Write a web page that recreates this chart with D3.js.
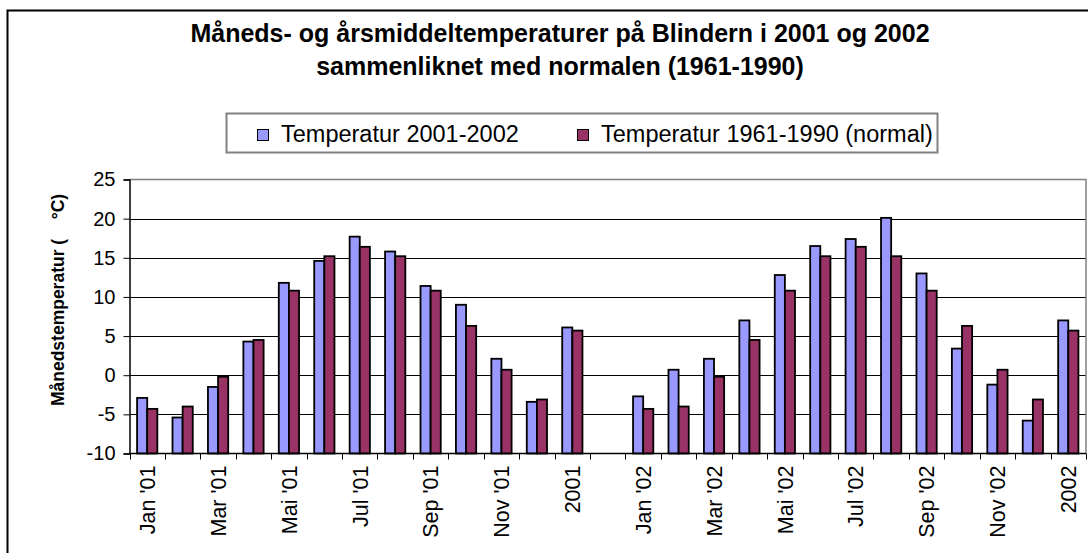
<!DOCTYPE html>
<html lang="no">
	<head>
		<meta charset="utf-8">
		<title>Blindern temperatur</title>
		<script type="text/javascript" src="https://cdn.jsdelivr.net/npm/d3@7"></script>
		<style type="text/css">
			body { margin: 0; background: #fff; }
			svg { display: block; font-family: "Liberation Sans", Arial, sans-serif; }
		</style>
	</head>

	<body>
        <script type="text/javascript">

            // chart size
			var w = 1088;
			var h = 553;

            // categories (blank one between the two years)
            var categories = ["Jan '01", "Feb '01", "Mar '01", "Apr '01", "Mai '01", "Jun '01",
                "Jul '01", "Aug '01", "Sep '01", "Okt '01", "Nov '01", "Des '01", "2001", "",
                "Jan '02", "Feb '02", "Mar '02", "Apr '02", "Mai '02", "Jun '02",
                "Jul '02", "Aug '02", "Sep '02", "Okt '02", "Nov '02", "Des '02", "2002"];

            // Temperatur 2001-2002
            var temp = [-2.9, -5.4, -1.5, 4.3, 11.8, 14.6, 17.7, 15.8, 11.4, 9.0, 2.1, -3.4, 6.1, null,
                -2.7, 0.7, 2.1, 7.0, 12.8, 16.5, 17.4, 20.1, 13.0, 3.4, -1.2, -5.8, 7.0];

            // Temperatur 1961-1990 (normal)
            var normal = [-4.3, -4.0, -0.2, 4.5, 10.8, 15.2, 16.4, 15.2, 10.8, 6.3, 0.7, -3.1, 5.7, null,
                -4.3, -4.0, -0.2, 4.5, 10.8, 15.2, 16.4, 15.2, 10.8, 6.3, 0.7, -3.1, 5.7];

            var seriesNames = ["Temperatur 2001-2002", "Temperatur 1961-1990 (normal)"];
            var yTicks = [-10, -5, 0, 5, 10, 15, 20, 25];
            var xLabels = ["Jan '01", "Mar '01", "Mai '01", "Jul '01", "Sep '01", "Nov '01", "2001",
                "Jan '02", "Mar '02", "Mai '02", "Jul '02", "Sep '02", "Nov '02", "2002"];

            var colors = ["#9999ff", "#993366"];

            // plot area
            var pLeft = 129.5, pRight = 1086, pTop = 179.5, pBottom = 453.5;

            var svg = d3.select("body")
                .append("svg")
                .attr("width", w)
                .attr("height", h);

            // outer chart frame (runs off the picture at right and bottom)
            svg.append("path")
                .attr("d", "M7.5," + (h + 5) + "V10.5H" + (w + 5))
                .attr("fill", "none")
                .attr("stroke", "#000")
                .attr("stroke-width", 2);

            var xScale = d3.scaleBand()
                .domain(categories)
                .range([pLeft, pRight]);

            // two bars per category, gap width 150%
            var x1 = d3.scaleBand()
                .domain([0, 1])
                .range([0, xScale.bandwidth()])
                .paddingOuter(0.75);

            var yScale = d3.scaleLinear()
                .domain([-10, 25])
                .range([pBottom, pTop]);

            // gridlines
            svg.append("g")
                .selectAll("line")
                .data(yTicks.filter(function(d) { return d > -10 && d < 25; }))
                .enter()
                .append("line")
                .attr("x1", pLeft)
                .attr("x2", pRight)
                .attr("y1", function(d) { return Math.round(yScale(d)) + 0.5; })
                .attr("y2", function(d) { return Math.round(yScale(d)) + 0.5; })
                .attr("stroke", "#000");

            // plot area border (top, right)
            svg.append("path")
                .attr("d", "M" + pLeft + "," + pTop + "H" + pRight + "V" + pBottom)
                .attr("fill", "none")
                .attr("stroke", "#808080")
                .attr("stroke-width", 1.5);

            // bars
            var rows = categories.map(function(c, i) {
                return { cat: c, vals: [temp[i], normal[i]] };
            });

            var groups = svg.append("g")
                .selectAll("g")
                .data(rows)
                .enter()
                .append("g")
                .attr("transform", function(d) { return "translate(" + xScale(d.cat) + ",0)"; });

            groups.selectAll("rect")
                .data(function(d) {
                    return d.vals.map(function(v, j) { return { v: v, j: j }; })
                        .filter(function(e) { return e.v !== null; });
                })
                .enter()
                .append("rect")
                .attr("x", function(d) { return x1(d.j); })
                .attr("width", x1.bandwidth())
                .attr("y", function(d) { return yScale(d.v); })
                .attr("height", function(d) { return yScale(-10) - yScale(d.v); })
                .attr("fill", function(d) { return colors[d.j]; })
                .attr("stroke", "#000")
                .attr("stroke-width", 1.8);

            // x axis
            var xAxis = d3.axisBottom(xScale)
                .tickValues(xLabels)
                .tickSize(0)
                .tickPadding(0);

            var gx = svg.append("g")
                .attr("transform", "translate(0," + pBottom + ")")
                .call(xAxis);

            gx.select(".domain").remove();
            gx.selectAll("text")
                .attr("transform", "rotate(-90)")
                .attr("x", -12)
                .attr("y", 0)
                .attr("dy", "0.36em")
                .style("text-anchor", "end")
                .style("font-size", "21.5px")
                .style("font-family", "Liberation Sans, Arial, sans-serif")
                .attr("fill", "#000");

            // category boundary ticks
            svg.append("g")
                .selectAll("line")
                .data(categories.concat(["end"]))
                .enter()
                .append("line")
                .attr("x1", function(d, i) { return Math.round(pLeft + i * xScale.step()) + 0.5; })
                .attr("x2", function(d, i) { return Math.round(pLeft + i * xScale.step()) + 0.5; })
                .attr("y1", pBottom)
                .attr("y2", pBottom + 6)
                .attr("stroke", "#000");

            svg.append("line")
                .attr("x1", pLeft)
                .attr("x2", pRight)
                .attr("y1", pBottom)
                .attr("y2", pBottom)
                .attr("stroke", "#000")
                .attr("stroke-width", 1.5);

            // y axis
            var yAxis = d3.axisLeft(yScale)
                .tickValues(yTicks)
                .tickSize(6)
                .tickPadding(8)
                .tickFormat(function(d) { return String(d); });

            var gy = svg.append("g")
                .attr("transform", "translate(" + pLeft + ",0)")
                .call(yAxis);

            gy.select(".domain").attr("stroke-width", 1.5);
            gy.selectAll("text")
                .style("font-size", "20px")
                .style("font-family", "Liberation Sans, Arial, sans-serif")
                .attr("fill", "#000");

            // y axis title
            svg.append("text")
                .attr("transform", "translate(64,300) rotate(-90)")
                .attr("text-anchor", "middle")
                .style("font-size", "17.5px")
                .style("font-weight", "bold")
                .style("white-space", "pre")
                .text("Månedstemperatur (    °C)");

            // title
            var title = ["Måneds- og årsmiddeltemperaturer på Blindern i 2001 og 2002",
                "sammenliknet med normalen (1961-1990)"];

            svg.append("g")
                .selectAll("text")
                .data(title)
                .enter()
                .append("text")
                .attr("x", 560)
                .attr("y", function(d, i) { return 42 + i * 33; })
                .attr("text-anchor", "middle")
                .style("font-size", "25px")
                .style("font-weight", "bold")
                .text(function(d) { return d; });

            // legend
            var legend = svg.append("g");

            legend.append("rect")
                .attr("x", 226.5)
                .attr("y", 113.5)
                .attr("width", 711)
                .attr("height", 39)
                .attr("fill", "#fff")
                .attr("stroke", "#808080")
                .attr("stroke-width", 2);

            var legendX = [257, 577];

            var items = legend.selectAll("g.item")
                .data(seriesNames)
                .enter()
                .append("g")
                .attr("class", "item")
                .attr("transform", function(d, i) { return "translate(" + legendX[i] + ",0)"; });

            items.append("rect")
                .attr("x", 0.5)
                .attr("y", 129.5)
                .attr("width", 11)
                .attr("height", 11)
                .attr("fill", function(d, i) { return colors[i]; })
                .attr("stroke", "#000");

            items.append("text")
                .attr("x", 24)
                .attr("y", 134)
                .attr("dy", "0.36em")
                .style("font-size", "23.5px")
                .text(function(d) { return d; });

        </script>
	</body>
</html>
